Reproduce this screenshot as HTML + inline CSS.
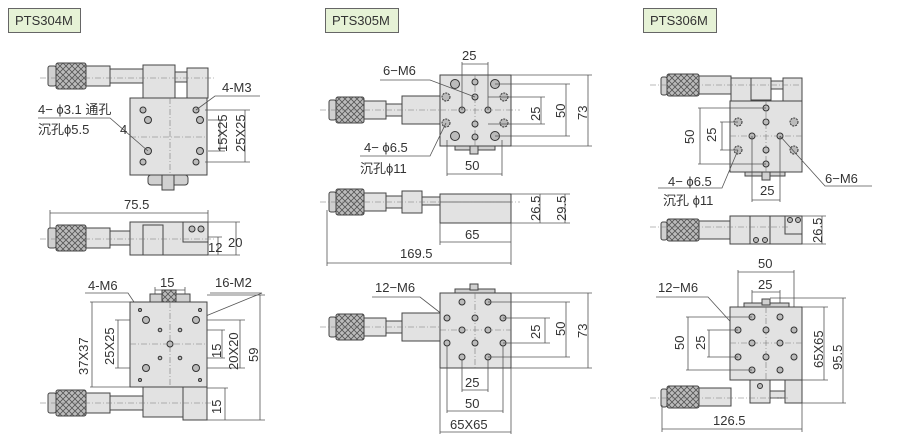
<!DOCTYPE html>
<html><head><style>
body{margin:0;background:#fff}
svg{display:block}
text{font-family:"Liberation Sans","Noto Sans CJK SC",sans-serif;fill:#333}
.p{fill:#e2e2e2;stroke:#444;stroke-width:1}
.d{fill:#d0d0d0;stroke:#444;stroke-width:1}
.k{fill:url(#kn);stroke:#444;stroke-width:1}
.l{stroke:#555;stroke-width:.8;fill:none}
.c{stroke:#777;stroke-width:.6;stroke-dasharray:6 2 1 2;fill:none}
.h{fill:#bbb;stroke:#333;stroke-width:1}
.tag{fill:#e6f2d6;stroke:#666}
</style></head><body>
<svg width="908" height="441" viewBox="0 0 908 441">
<defs>
<pattern id="kn" width="6" height="6" patternUnits="userSpaceOnUse">
<rect width="6" height="6" fill="#bbb"/><path d="M0 0L6 6M6 0L0 6" stroke="#555" stroke-width=".8"/>
</pattern>
</defs>
<!-- tags -->
<rect class="tag" x="8.5" y="8.5" width="72" height="24"/><text x="15" y="25" font-size="13">PTS304M</text>
<rect class="tag" x="325.5" y="8.5" width="73" height="24"/><text x="332" y="25" font-size="13">PTS305M</text>
<rect class="tag" x="643.5" y="8.5" width="73" height="24"/><text x="650" y="25" font-size="13">PTS306M</text>

<!-- ===== PTS304M top ===== -->
<g>
<rect class="d" x="48" y="66" width="8" height="20" rx="2"/>
<rect class="k" x="56" y="63" width="30" height="26" rx="2"/>
<rect class="p" x="86" y="66" width="24" height="20"/>
<rect class="p" x="110" y="69" width="34" height="14"/>
<rect class="p" x="143" y="65" width="32" height="33"/>
<rect class="p" x="175" y="72" width="12" height="10"/>
<rect class="p" x="187" y="68" width="21" height="30"/>
<line class="c" x1="40" y1="78" x2="215" y2="78"/>
<rect class="p" x="130" y="98" width="77" height="77"/>
<line class="c" x1="170" y1="98" x2="170" y2="175"/><line class="c" x1="130" y1="137" x2="207" y2="137"/>
<rect class="d" x="148" y="175" width="40" height="10" rx="3"/><rect class="d" x="162" y="175" width="12" height="15"/>
<g class="h"><circle cx="143" cy="110" r="3"/><circle cx="196" cy="110" r="3"/><circle cx="143" cy="162" r="3"/><circle cx="196" cy="162" r="3"/>
<circle cx="148" cy="120" r="3.5"/><circle cx="200" cy="120" r="3.5"/><circle cx="148" cy="151" r="3.5"/><circle cx="200" cy="151" r="3.5"/></g>
<path class="l" d="M196 110L215 96H260"/><text x="222" y="92" font-size="13">4-M3</text>
<path class="l" d="M38 118H110L148 151"/>
<text x="38" y="114" font-size="13">4− ϕ3.1 通孔</text>
<text x="38" y="134" font-size="13">沉孔ϕ5.5</text><text x="120" y="134" font-size="13">4</text>
<path class="l" d="M205 110H250M205 162H250M208 120H225M208 151H225M220 120V151M245 110V162"/>
<text transform="translate(227,152) rotate(-90)" font-size="13">15X25</text>
<text transform="translate(245,152) rotate(-90)" font-size="13">25X25</text>
</g>
<!-- PTS304M side -->
<g>
<text x="124" y="209" font-size="13">75.5</text>
<path class="l" d="M50 213H208M50 210V230M208 210V222"/>
<rect class="d" x="48" y="228" width="8" height="20" rx="2"/>
<rect class="k" x="56" y="225" width="30" height="26" rx="2"/>
<rect class="p" x="86" y="228" width="24" height="20"/>
<rect class="p" x="110" y="231" width="34" height="14"/>
<rect class="p" x="130" y="222" width="78" height="33"/>
<rect class="p" x="143" y="225" width="20" height="30"/>
<rect class="p" x="183" y="222" width="25" height="20"/>
<circle class="h" cx="192" cy="229" r="3"/><circle class="h" cx="201" cy="229" r="3"/>
<line class="c" x1="40" y1="239" x2="215" y2="239"/>
<path class="l" d="M208 222H240M208 237H222M208 255H240M218 237V255M236 222V255"/>
<text x="208" y="252" font-size="13">12</text><text x="228" y="247" font-size="13">20</text>
</g>
<!-- PTS304M bottom -->
<g>
<text x="88" y="290" font-size="13">4-M6</text><text x="160" y="287" font-size="13">15</text><text x="215" y="287" font-size="13">16-M2</text>
<path class="l" d="M85 293H128L146 320M155 290H185M155 287V305M185 287V305M210 293H262L196 320"/>
<rect class="d" x="150" y="294" width="40" height="8"/><rect class="k" x="162" y="290" width="14" height="12"/>
<rect class="p" x="130" y="302" width="77" height="85"/>
<line class="c" x1="170" y1="302" x2="170" y2="387"/><line class="c" x1="130" y1="344" x2="207" y2="344"/>
<g class="h"><circle cx="146" cy="320" r="3.5"/><circle cx="196" cy="320" r="3.5"/><circle cx="146" cy="368" r="3.5"/><circle cx="196" cy="368" r="3.5"/>
<circle cx="170" cy="344" r="3"/><circle cx="160" cy="330" r="1.8"/><circle cx="180" cy="330" r="1.8"/><circle cx="160" cy="358" r="1.8"/><circle cx="180" cy="358" r="1.8"/>
<circle cx="140" cy="310" r="1.5"/><circle cx="200" cy="310" r="1.5"/><circle cx="140" cy="380" r="1.5"/><circle cx="200" cy="380" r="1.5"/></g>
<path class="l" d="M130 302H90M130 387H90M92 302V387M130 320H115M130 368H115M118 320V368"/>
<text transform="translate(88,375) rotate(-90)" font-size="13">37X37</text>
<text transform="translate(114,365) rotate(-90)" font-size="13">25X25</text>
<path class="l" d="M207 330H225M207 358H225M222 330V358M207 320H245M207 368H245M240 320V368M207 295H265M207 420H265M260 295V420M207 388H228M225 388V420"/>
<text transform="translate(221,358) rotate(-90)" font-size="13">15</text>
<text transform="translate(238,370) rotate(-90)" font-size="13">20X20</text>
<text transform="translate(258,362) rotate(-90)" font-size="13">59</text>
<text transform="translate(221,414) rotate(-90)" font-size="13">15</text>
<rect class="d" x="48" y="393" width="8" height="20" rx="2"/>
<rect class="k" x="56" y="390" width="30" height="26" rx="2"/>
<rect class="p" x="86" y="393" width="24" height="20"/>
<rect class="p" x="110" y="396" width="34" height="14"/>
<rect class="p" x="143" y="387" width="40" height="30"/>
<rect class="p" x="183" y="387" width="24" height="33"/>
<line class="c" x1="40" y1="403" x2="215" y2="403"/>
</g>

<!-- ===== PTS305M top ===== -->
<g>
<rect class="d" x="329" y="100" width="7" height="20" rx="2"/>
<rect class="k" x="336" y="97" width="28" height="26" rx="2"/>
<rect class="p" x="364" y="101" width="22" height="18"/>
<rect class="p" x="386" y="104" width="16" height="12"/>
<rect class="p" x="402" y="96" width="38" height="28"/>
<line class="c" x1="320" y1="110" x2="520" y2="110"/>
<rect class="p" x="440" y="75" width="71" height="71"/>
<rect class="d" x="455" y="146" width="40" height="4"/><rect class="d" x="470" y="146" width="8" height="8"/>
<line class="c" x1="475" y1="75" x2="475" y2="146"/><line class="c" x1="440" y1="110" x2="511" y2="110"/>
<g class="h"><circle cx="475" cy="82" r="3"/><circle cx="475" cy="97" r="3"/><circle cx="462" cy="110" r="3"/><circle cx="488" cy="110" r="3"/><circle cx="475" cy="124" r="3"/><circle cx="475" cy="137" r="3"/>
<circle cx="455" cy="84" r="4.5"/><circle cx="495" cy="84" r="4.5"/><circle cx="455" cy="136" r="4.5"/><circle cx="495" cy="136" r="4.5"/>
<circle cx="446" cy="97" r="4" style="stroke-dasharray:2 1"/><circle cx="504" cy="97" r="4" style="stroke-dasharray:2 1"/><circle cx="446" cy="123" r="4" style="stroke-dasharray:2 1"/><circle cx="504" cy="123" r="4" style="stroke-dasharray:2 1"/></g>
<text x="383" y="75" font-size="13">6−M6</text><path class="l" d="M380 80H430L475 97"/>
<text x="462" y="60" font-size="13">25</text><path class="l" d="M462 64H488M462 62V110M488 62V110"/>
<path class="l" d="M488 97H545M488 124H545M541 97V124M495 84H570M495 136H570M566 84V136M511 75H592M511 146H592M588 75V146"/>
<text transform="translate(540,121) rotate(-90)" font-size="13">25</text>
<text transform="translate(565,118) rotate(-90)" font-size="13">50</text>
<text transform="translate(587,120) rotate(-90)" font-size="13">73</text>
<text x="364" y="152" font-size="13">4− ϕ6.5</text><text x="360" y="173" font-size="13">沉孔ϕ11</text>
<path class="l" d="M360 156H430L446 123"/>
<text x="465" y="170" font-size="13">50</text><path class="l" d="M447 174H502M447 140V176M502 140V176"/>
</g>
<!-- PTS305M side -->
<g>
<rect class="d" x="329" y="192" width="7" height="20" rx="2"/>
<rect class="k" x="336" y="189" width="28" height="26" rx="2"/>
<rect class="p" x="364" y="193" width="22" height="18"/>
<rect class="p" x="386" y="196" width="16" height="12"/>
<rect class="p" x="402" y="191" width="20" height="22"/>
<rect class="p" x="422" y="197" width="18" height="8"/>
<rect class="p" x="440" y="194" width="71" height="29"/><line class="l" x1="440" y1="202" x2="511" y2="202"/>
<line class="c" x1="320" y1="202" x2="520" y2="202"/>
<path class="l" d="M511 194H570M511 223H570M540 194V223M565 194V223"/>
<text transform="translate(540,221) rotate(-90)" font-size="13">26.5</text>
<text transform="translate(566,221) rotate(-90)" font-size="13">29.5</text>
<text x="465" y="239" font-size="13">65</text><path class="l" d="M440 242H511M440 223V245M511 223V265"/>
<text x="400" y="258" font-size="13">169.5</text><path class="l" d="M327 263H511M327 210V266"/>
</g>
<!-- PTS305M bottom -->
<g>
<text x="375" y="292" font-size="13">12−M6</text><path class="l" d="M372 297H420L447 318"/>
<rect class="d" x="455" y="289" width="40" height="4"/><rect class="d" x="470" y="284" width="8" height="6"/>
<rect class="p" x="440" y="293" width="71" height="75"/>
<line class="c" x1="475" y1="293" x2="475" y2="368"/><line class="c" x1="440" y1="330" x2="511" y2="330"/>
<g class="h"><circle cx="462" cy="302" r="3"/><circle cx="488" cy="302" r="3"/><circle cx="447" cy="318" r="3"/><circle cx="475" cy="318" r="3"/><circle cx="503" cy="318" r="3"/>
<circle cx="462" cy="330" r="3"/><circle cx="488" cy="330" r="3"/><circle cx="447" cy="343" r="3"/><circle cx="475" cy="343" r="3"/><circle cx="503" cy="343" r="3"/><circle cx="462" cy="357" r="3"/><circle cx="488" cy="357" r="3"/></g>
<path class="l" d="M503 318H550M503 343H550M545 318V343M488 302H570M488 357H570M566 302V357M511 293H592M511 368H592M588 293V368"/>
<text transform="translate(540,339) rotate(-90)" font-size="13">25</text>
<text transform="translate(565,336) rotate(-90)" font-size="13">50</text>
<text transform="translate(587,338) rotate(-90)" font-size="13">73</text>
<rect class="d" x="329" y="317" width="7" height="20" rx="2"/>
<rect class="k" x="336" y="314" width="28" height="26" rx="2"/>
<rect class="p" x="364" y="318" width="22" height="18"/>
<rect class="p" x="386" y="321" width="16" height="12"/>
<rect class="p" x="402" y="313" width="38" height="28"/>
<line class="c" x1="320" y1="327" x2="440" y2="327"/>
<text x="465" y="387" font-size="13">25</text><path class="l" d="M462 390H488M462 360V392M488 360V392"/>
<text x="465" y="408" font-size="13">50</text><path class="l" d="M447 411H503M447 346V413M503 346V413"/>
<text x="450" y="429" font-size="13">65X65</text><path class="l" d="M440 432H511M440 368V434M511 368V434"/>
</g>

<!-- ===== PTS306M top ===== -->
<g>
<rect class="d" x="661" y="77" width="6" height="18" rx="2"/>
<rect class="k" x="667" y="74" width="32" height="22" rx="2"/>
<rect class="p" x="699" y="76" width="32" height="18"/>
<rect class="p" x="731" y="78" width="20" height="23"/>
<rect class="p" x="751" y="78" width="20" height="22"/>
<rect class="p" x="771" y="81" width="12" height="8"/>
<rect class="p" x="783" y="78" width="19" height="23"/>
<line class="c" x1="650" y1="85" x2="800" y2="85"/>
<rect class="p" x="730" y="101" width="72" height="71"/>
<rect class="d" x="745" y="172" width="40" height="4"/><rect class="d" x="762" y="172" width="8" height="8"/>
<line class="c" x1="766" y1="101" x2="766" y2="172"/><line class="c" x1="730" y1="136" x2="802" y2="136"/>
<g class="h"><circle cx="766" cy="108" r="3"/><circle cx="766" cy="122" r="3"/><circle cx="752" cy="136" r="3"/><circle cx="780" cy="136" r="3"/><circle cx="766" cy="150" r="3"/><circle cx="766" cy="164" r="3"/>
<circle cx="738" cy="122" r="4" style="stroke-dasharray:2 1"/><circle cx="794" cy="122" r="4" style="stroke-dasharray:2 1"/><circle cx="738" cy="150" r="4" style="stroke-dasharray:2 1"/><circle cx="794" cy="150" r="4" style="stroke-dasharray:2 1"/></g>
<path class="l" d="M766 108H698M766 164H698M700 108V164M738 122H720M738 150H720M722 122V150"/>
<text transform="translate(694,144) rotate(-90)" font-size="13">50</text>
<text transform="translate(716,142) rotate(-90)" font-size="13">25</text>
<path class="l" d="M780 136L825 186H872"/><text x="825" y="183" font-size="13">6−M6</text>
<text x="668" y="186" font-size="13">4− ϕ6.5</text><text x="663" y="205" font-size="13">沉孔 ϕ11</text>
<path class="l" d="M658 188H722L738 150"/>
<text x="760" y="195" font-size="13">25</text><path class="l" d="M752 200H780M752 136V202M780 136V202"/>
</g>
<!-- PTS306M side -->
<g>
<rect class="d" x="661" y="222" width="6" height="18" rx="2"/>
<rect class="k" x="667" y="219" width="32" height="22" rx="2"/>
<rect class="p" x="699" y="221" width="32" height="18"/>
<rect class="p" x="730" y="216" width="72" height="28"/>
<rect class="p" x="750" y="216" width="20" height="28"/>
<rect class="p" x="785" y="216" width="17" height="18"/>
<circle class="h" cx="756" cy="240" r="2.5"/><circle class="h" cx="765" cy="240" r="2.5"/><circle class="h" cx="790" cy="220" r="2.5"/><circle class="h" cx="798" cy="220" r="2.5"/>
<line class="c" x1="650" y1="227" x2="790" y2="227"/>
<path class="l" d="M802 216H826M802 244H826M822 216V244"/>
<text transform="translate(822,243) rotate(-90)" font-size="13">26.5</text>
</g>
<!-- PTS306M bottom -->
<g>
<text x="758" y="268" font-size="13">50</text><path class="l" d="M738 272H794M738 270V318M794 270V318"/>
<text x="758" y="289" font-size="13">25</text><path class="l" d="M752 292H780M752 290V306M780 290V306"/>
<text x="658" y="292" font-size="13">12−M6</text><path class="l" d="M656 297H708L738 330"/>
<rect class="d" x="744" y="303" width="45" height="4"/><rect class="d" x="762" y="299" width="8" height="6"/>
<rect class="p" x="730" y="307" width="72" height="73"/>
<line class="c" x1="766" y1="307" x2="766" y2="380"/><line class="c" x1="730" y1="343" x2="802" y2="343"/>
<g class="h"><circle cx="752" cy="317" r="3"/><circle cx="780" cy="317" r="3"/><circle cx="738" cy="330" r="3"/><circle cx="766" cy="330" r="3"/><circle cx="794" cy="330" r="3"/>
<circle cx="752" cy="343" r="3"/><circle cx="780" cy="343" r="3"/><circle cx="738" cy="357" r="3"/><circle cx="766" cy="357" r="3"/><circle cx="794" cy="357" r="3"/><circle cx="752" cy="370" r="3"/><circle cx="780" cy="370" r="3"/></g>
<path class="l" d="M752 317H686M752 370H686M688 317V370M738 330H707M738 357H707M709 330V357"/>
<text transform="translate(684,350) rotate(-90)" font-size="13">50</text>
<text transform="translate(705,350) rotate(-90)" font-size="13">25</text>
<path class="l" d="M802 307H828M802 380H828M824 307V380M770 298H846M802 403H846M843 298V403"/>
<text transform="translate(823,368) rotate(-90)" font-size="13">65X65</text>
<text transform="translate(842,370) rotate(-90)" font-size="13">95.5</text>
<rect class="d" x="661" y="389" width="6" height="18" rx="2"/>
<rect class="k" x="667" y="386" width="32" height="22" rx="2"/>
<rect class="p" x="699" y="388" width="32" height="18"/>
<rect class="p" x="750" y="380" width="20" height="23"/>
<rect class="p" x="770" y="391" width="15" height="7"/>
<rect class="p" x="785" y="380" width="17" height="23"/>
<circle class="h" cx="760" cy="386" r="2.5"/>
<line class="c" x1="650" y1="398" x2="790" y2="398"/>
<text x="713" y="425" font-size="13">126.5</text><path class="l" d="M662 429H802M662 405V432M802 403V432"/>
</g>
</svg>
</body></html>
